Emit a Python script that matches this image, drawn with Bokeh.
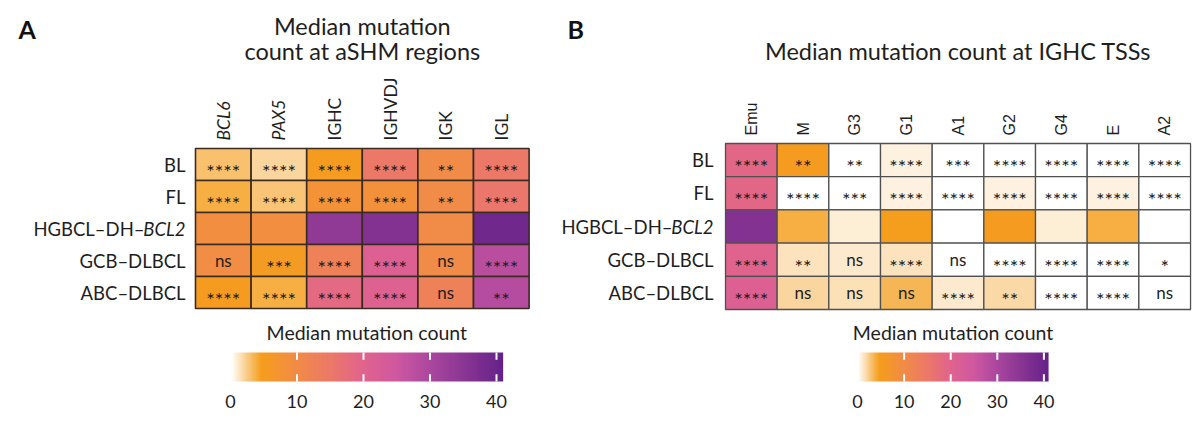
import math
import numpy as np
from bokeh.plotting import figure
from bokeh.models import ColumnDataSource, LinearColorMapper, Range1d
from bokeh.layouts import row
from bokeh.transform import transform
from bokeh.embed import file_html
from bokeh.resources import INLINE
from bokeh.core.properties import value

# ---------------- data ----------------
rows = ["BL", "FL", "HGBCL–DH–BCL2", "GCB–DLBCL", "ABC–DLBCL"]

cols_a = ["BCL6", "PAX5", "IGHC", "IGHVDJ", "IGK", "IGL"]
vals_a_bl = [3.0, 2.0, 5.0, 15.0, 10.0, 15.0]
vals_a_fl = [3.7, 2.8, 8.0, 8.5, 10.0, 15.5]
vals_a_hg = [9.0, 9.0, 34.0, 36.0, 10.0, 39.0]
vals_a_gcb = [9.5, 5.5, 12.5, 21.0, 10.0, 28.0]
vals_a_abc = [5.0, 3.8, 18.5, 20.5, 12.5, 28.5]
sig_a_bl = ["****", "****", "****", "****", "**", "****"]
sig_a_fl = ["****", "****", "****", "****", "**", "****"]
sig_a_hg = ["", "", "", "", "", ""]
sig_a_gcb = ["ns", "***", "****", "****", "ns", "****"]
sig_a_abc = ["****", "****", "****", "****", "ns", "**"]

cols_b = ["Emu", "M", "G3", "G1", "A1", "G2", "G4", "E", "A2"]
vals_b_bl = [19.0, 5.0, 0.0, 0.8, 0.0, 0.0, 0.0, 0.0, 0.0]
vals_b_fl = [19.0, 0.0, 0.0, 0.8, 0.0, 0.8, 0.0, 0.8, 0.0]
vals_b_hg = [36.0, 3.7, 0.9, 4.8, 0.0, 5.0, 0.9, 3.8, 0.0]
vals_b_gcb = [20.0, 1.4, 1.0, 1.4, 0.0, 0.0, 0.0, 0.0, 0.0]
vals_b_abc = [21.0, 2.0, 1.6, 3.4, 1.1, 1.8, 0.0, 0.0, 0.0]
sig_b_bl = ["****", "**", "**", "****", "***", "****", "****", "****", "****"]
sig_b_fl = ["****", "****", "***", "****", "****", "****", "****", "****", "****"]
sig_b_hg = ["", "", "", "", "", "", "", "", ""]
sig_b_gcb = ["****", "**", "ns", "****", "ns", "****", "****", "****", "*"]
sig_b_abc = ["****", "ns", "ns", "ns", "****", "**", "****", "****", "ns"]

cbar_ticks = [0, 10, 20, 30, 40]
cbar_max = 41
cbar_title = "Median mutation count"

# ---------------- style ----------------
FONT = "Lato"
TXT = "#1e1e1e"
PAGE_TOP, PAGE_BOTTOM = 0, 425          # figure extent on the page (px)
stops = [0, 4.5, 10, 15, 20, 25, 30, 35, 41]
stop_cols = ["#ffffff", "#f59e1c", "#f18b48", "#ec7868", "#e0638e",
             "#cf58a0", "#aa479f", "#8a3693", "#652189"]


def hex2rgb(h):
    return [int(h[i:i + 2], 16) for i in (1, 3, 5)]


rgb = np.array([hex2rgb(c) for c in stop_cols], dtype=float)
lv = np.linspace(0, cbar_max, 256)
palette = ["#%02x%02x%02x" % tuple(int(round(np.interp(v, stops, rgb[:, k]))) for k in range(3)) for v in lv]
mapper = LinearColorMapper(palette=palette, low=0, high=cbar_max)

ITALIC_ROW = ("HGBCL–DH–", "BCL2")


def panel(cols, vals, sigs, italic_cols, titles, letter, *, fig_left, fig_w, hm_left, col_px,
          hm_top, row_px, line_color, line_w, col_font, col_size, col_standoff, row_standoff,
          cb_zero, cb_k, italic_w):
    # ranges: x in column units (cell i spans [i, i+1]), y in row units, flipped (row 0 at top)
    xr = Range1d((fig_left - hm_left) / col_px, (fig_left + fig_w - hm_left) / col_px)
    yr = Range1d((PAGE_BOTTOM - hm_top) / row_px, (PAGE_TOP - hm_top) / row_px)
    p = figure(width=fig_w, height=PAGE_BOTTOM - PAGE_TOP, x_range=xr, y_range=yr,
               min_border=0, toolbar_location=None, output_backend="svg")
    p.axis.visible = False
    p.grid.visible = False
    p.outline_line_color = None

    # ---- heatmap cells ----
    xs, ys, vs, ss = [], [], [], []
    for ri, (vrow, srow) in enumerate(zip(vals, sigs)):
        for ci, (v, s) in enumerate(zip(vrow, srow)):
            xs.append(ci + 0.5); ys.append(ri + 0.5); vs.append(v); ss.append(s)
    p.rect(x="x", y="y", width=1, height=1, source=ColumnDataSource(dict(x=xs, y=ys, v=vs)),
           fill_color=transform("v", mapper), line_color=line_color, line_width=line_w)
    star = ColumnDataSource(dict(x=[x for x, s in zip(xs, ss) if s.startswith("*")],
                                 y=[y for y, s in zip(ys, ss) if s.startswith("*")],
                                 t=[s for s in ss if s.startswith("*")]))
    ns = ColumnDataSource(dict(x=[x for x, s in zip(xs, ss) if s == "ns"],
                               y=[y for y, s in zip(ys, ss) if s == "ns"],
                               t=[s for s in ss if s == "ns"]))
    p.text(x="x", y="y", text="t", source=star, text_align="center", text_baseline="middle",
           text_font=value(FONT), text_font_size="20px", text_color=TXT, y_offset=6)
    p.text(x="x", y="y", text="t", source=ns, text_align="center", text_baseline="middle",
           text_font=value(FONT), text_font_size="17px", text_color=TXT)

    # ---- column labels (vertical) ----
    for style in ("normal", "italic"):
        sel = [(i + 0.5, c) for i, c in enumerate(cols) if (c in italic_cols) == (style == "italic")]
        if not sel:
            continue
        p.text(x=[s[0] for s in sel], y=0, text=[s[1] for s in sel], y_offset=-col_standoff,
               angle=math.pi / 2, text_align="left", text_baseline="middle",
               text_font=value(col_font), text_font_size=col_size, text_font_style=style,
               text_color=TXT)

    # ---- row labels ----
    plain = [(i + 0.5, r) for i, r in enumerate(rows) if r != "".join(ITALIC_ROW)]
    p.text(x=0, y=[s[0] for s in plain], text=[s[1] for s in plain], x_offset=-row_standoff,
           text_align="right", text_baseline="middle", text_font=value(FONT),
           text_font_size="18.5px", text_color=TXT)
    yi = rows.index("".join(ITALIC_ROW)) + 0.5
    p.text(x=0, y=[yi], text=[ITALIC_ROW[1]], x_offset=-row_standoff, text_align="right",
           text_baseline="middle", text_font=value(FONT), text_font_size="18.5px",
           text_font_style="italic", text_color=TXT)
    p.text(x=0, y=[yi], text=[ITALIC_ROW[0]], x_offset=-row_standoff - italic_w, text_align="right",
           text_baseline="middle", text_font=value(FONT), text_font_size="18.5px", text_color=TXT)

    # ---- title and panel letter ----
    p.text(x=len(cols) / 2, y=0, text=[t[0] for t in titles], y_offset=[t[1] for t in titles],
           text_align="center", text_baseline="alphabetic", text_font=value(FONT),
           text_font_size="23.5px", text_color=TXT)
    p.text(x=0, y=0, text=[letter[0]], x_offset=letter[1], y_offset=letter[2],
           text_align="left", text_baseline="alphabetic", text_font=value(FONT),
           text_font_size="25px", text_font_style="bold", text_color="#111111")

    # ---- colour bar on its own scales ----
    bar_top, bar_bottom = 352, 381
    bar_h = bar_bottom - bar_top
    p.extra_x_ranges = {"cbx": Range1d((fig_left - cb_zero) / cb_k, (fig_left + fig_w - cb_zero) / cb_k)}
    p.extra_y_ranges = {"cby": Range1d(-(PAGE_BOTTOM - bar_bottom) / bar_h, 1 + (bar_top - PAGE_TOP) / bar_h)}
    grad = np.linspace(0, cbar_max, 400).reshape(1, -1)
    p.image(image=[grad], x=0, y=0, dw=cbar_max, dh=1, color_mapper=mapper,
            x_range_name="cbx", y_range_name="cby")
    for y0, y1 in ((0, 0.25), (0.75, 1)):
        p.segment(x0=cbar_ticks[1:], y0=y0, x1=cbar_ticks[1:], y1=y1, line_color="white",
                  line_width=2, x_range_name="cbx", y_range_name="cby")
    p.text(x=cbar_ticks, y=0, text=[str(t) for t in cbar_ticks], y_offset=20,
           text_align="center", text_baseline="alphabetic", text_font=value(FONT),
           text_font_size="18px", text_color=TXT, x_range_name="cbx", y_range_name="cby")
    p.text(x=[cbar_max / 2], y=1, text=[cbar_title], y_offset=-20,
           text_align="center", text_baseline="alphabetic", text_font=value(FONT),
           text_font_size="19.5px", text_color=TXT, x_range_name="cbx", y_range_name="cby")
    return p


SPLIT = 552
pA = panel(cols_a, [vals_a_bl, vals_a_fl, vals_a_hg, vals_a_gcb, vals_a_abc],
           [sig_a_bl, sig_a_fl, sig_a_hg, sig_a_gcb, sig_a_abc],
           italic_cols=["BCL6", "PAX5"],
           titles=[("Median mutation", -123), ("count at aSHM regions", -98)],
           letter=("A", -177, -120),
           fig_left=0, fig_w=SPLIT, hm_left=195, col_px=55.6, hm_top=148, row_px=32,
           line_color="#3b2a20", line_w=1.6, col_font=FONT, col_size="17.5px",
           col_standoff=8, row_standoff=10, cb_zero=230, cb_k=6.65, italic_w=41)

pB = panel(cols_b, [vals_b_bl, vals_b_fl, vals_b_hg, vals_b_gcb, vals_b_abc],
           [sig_b_bl, sig_b_fl, sig_b_hg, sig_b_gcb, sig_b_abc],
           italic_cols=[],
           titles=[("Median mutation count at IGHC TSSs", -93)],
           letter=("B", -158, -115),
           fig_left=SPLIT, fig_w=1200 - SPLIT, hm_left=725, col_px=51.67, hm_top=143, row_px=33.2,
           line_color="#505050", line_w=1.3, col_font="Liberation Sans", col_size="16px",
           col_standoff=8, row_standoff=12, cb_zero=857, cb_k=4.66, italic_w=41)

layout = row(pA, pB, spacing=0)
open("out.html", "w").write(file_html(layout, INLINE))
